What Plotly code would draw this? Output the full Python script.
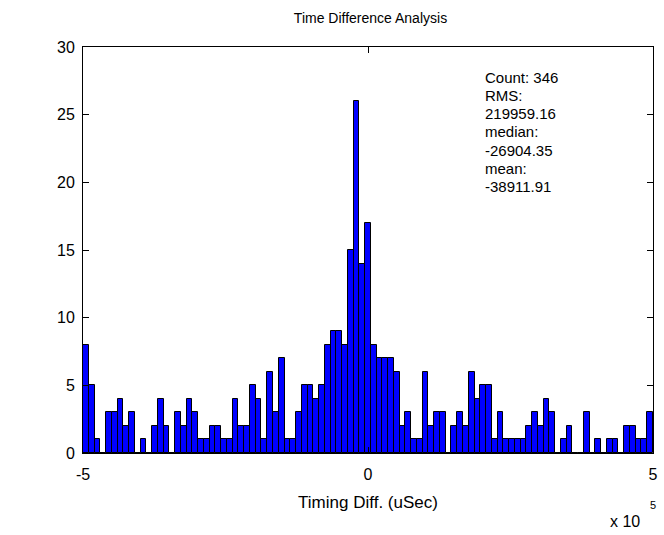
import numpy as np
import plotly.graph_objects as go

# Histogram of timing differences (99 bins spanning -5e5 .. 5e5 uSec)
bin_lo = -5e5
bin_hi = 5e5
counts = [
    8, 5, 1, 0, 3, 3, 4, 2, 3, 0, 1, 0, 2, 4, 2, 0, 3,
    2, 4, 3, 1, 1, 2, 2, 1, 1, 4, 2, 2, 5, 4, 1,
    6, 3, 7, 1, 1, 3, 5, 5, 4, 5, 8, 9, 9, 8,
    15, 26, 14, 17,
    8, 7, 7, 7, 6, 2, 3, 1, 1, 6, 2, 3, 3, 0, 2, 3, 2,
    6, 4, 5, 5, 1, 3, 1, 1, 1, 1, 2, 3, 2, 4, 3, 0,
    1, 2, 0, 0, 3, 0, 1, 0, 1, 1, 0, 2, 2, 1, 1, 3,
]
x_tickvals = [-5e5, 0, 5e5]
x_ticktext = ["-5", "0", "5"]
y_tickvals = [0, 5, 10, 15, 20, 25, 30]

stats_lines = ["Count: 346", "RMS:", "219959.16", "median:", "-26904.35",
               "mean:", "-38911.91"]

edges = np.linspace(bin_lo, bin_hi, len(counts) + 1)
centers = (edges[:-1] + edges[1:]) / 2
width = edges[1] - edges[0]

W, H = 664, 535
L, R, T, B = 83, 6, 47, 82
PW, PH = W - L - R, H - T - B
FONT = "Liberation Sans, Arial, sans-serif"


def px_x(px):
    """Pixel column -> paper x."""
    return (px - L) / PW


def px_y(py):
    """Pixel row -> paper y."""
    return 1 - (py - T) / PH


fig = go.Figure(
    go.Bar(
        x=centers,
        y=counts,
        width=width,
        marker=dict(color="#0000ff", line=dict(color="black", width=1)),
        hoverinfo="x+y",
    )
)

fig.update_layout(
    width=W,
    height=H,
    margin=dict(l=L, r=R, t=T, b=B),
    paper_bgcolor="white",
    plot_bgcolor="white",
    showlegend=False,
    bargap=0,
    font=dict(family=FONT, color="black", size=15),
    title=dict(
        text="Time Difference Analysis",
        x=(L + (W - R)) / 2 / W,
        xanchor="center",
        y=1 - 18 / H,
        yanchor="middle",
        font=dict(size=14, family=FONT, color="black"),
    ),
)

fig.update_xaxes(
    range=[bin_lo, bin_hi],
    tickvals=x_tickvals,
    ticktext=x_ticktext,
    ticks="inside",
    ticklen=6,
    tickcolor="black",
    showline=True,
    linecolor="black",
    linewidth=1,
    mirror="ticks",
    showgrid=False,
    zeroline=False,
    ticklabelstandoff=7,
    tickfont=dict(size=16),
    title=dict(text="Timing Diff. (uSec)", font=dict(size=17), standoff=13),
)
fig.update_yaxes(
    range=[0, 30],
    tickvals=y_tickvals,
    ticks="inside",
    ticklen=6,
    tickcolor="black",
    showline=True,
    linecolor="black",
    linewidth=1,
    mirror="ticks",
    showgrid=False,
    zeroline=False,
    ticklabelstandoff=4,
    tickfont=dict(size=16),
)

# Exponent label under the right end of the x axis
fig.add_annotation(
    text="x 10",
    xref="paper", yref="paper",
    x=px_x(647), y=px_y(521),
    xanchor="right", yanchor="middle",
    showarrow=False,
    font=dict(size=16, family=FONT),
)
fig.add_annotation(
    text="5",
    xref="paper", yref="paper",
    x=px_x(658), y=px_y(505),
    xanchor="center", yanchor="middle",
    showarrow=False,
    font=dict(size=11, family=FONT),
)

# Summary statistics block, one line per annotation
for i, line in enumerate(stats_lines):
    fig.add_annotation(
        text=line,
        xref="paper", yref="paper",
        x=px_x(487), y=px_y(77 + 18.3 * i),
        xanchor="left", yanchor="middle",
        align="left",
        showarrow=False,
        font=dict(size=15, family=FONT),
    )

fig.write_html("out.html")
